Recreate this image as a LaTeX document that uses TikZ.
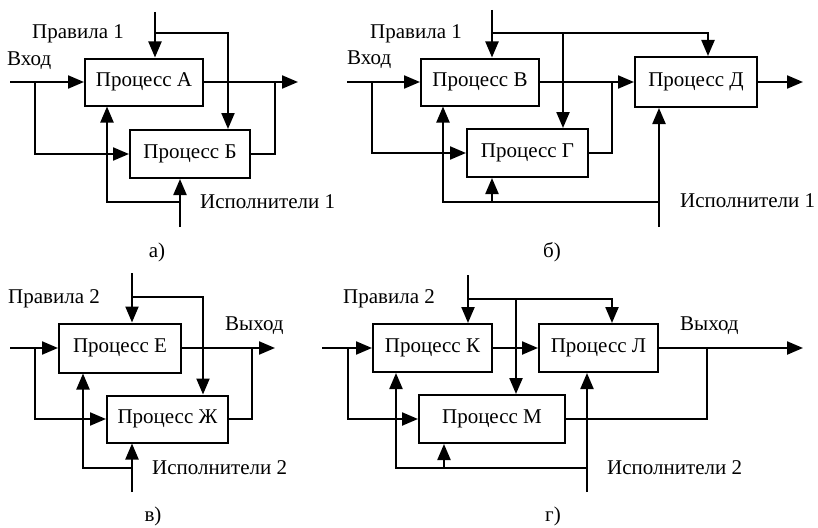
\documentclass[tikz,border=0pt]{standalone}
\usepackage{fontspec}
\setmainfont{Liberation Serif}
\usetikzlibrary{arrows.meta}
\begin{document}
\begin{tikzpicture}[x=1pt,y=-1pt,
  box/.style={draw,line width=2pt,inner sep=0pt,minimum height=47pt,font=\fontsize{21}{24}\selectfont},
  wire/.style={line width=2.2pt},
  arr/.style={wire,-{Triangle[length=16pt,width=13pt]}},
  lbl/.style={inner sep=0pt,anchor=base west,font=\fontsize{21}{24}\selectfont},
  capt/.style={inner sep=0pt,anchor=base,font=\fontsize{21}{24}\selectfont}]
\useasboundingbox (0,0) rectangle (818,527);
% ---------- panel a
\node[box,minimum width=118pt] (A) at (144,82) {Процесс А};
\node[box,minimum width=120pt,minimum height=48pt] (B) at (190,154) {Процесс Б};
\coordinate (a-in) at (10,82); \coordinate (a-j1) at (35,82);
\coordinate (a-out) at (298,82); \coordinate (a-j2) at (275,82);
\coordinate (a-rt) at (155,12); \coordinate (a-rj) at (155,33); \coordinate (a-rb) at (228,33);
\coordinate (a-mb) at (180,227); \coordinate (a-mj) at (180,202); \coordinate (a-ml) at (107,202);
\draw[arr] (a-in) -- (A.west);
\draw[arr] (a-j1) |- (B.west);
\draw[arr] (A.east) -- (a-out);
\draw[wire] (B.east) -| (a-j2);
\draw[arr] (a-rt) -- (a-rt |- A.north);
\draw[arr] (a-rj) -- (a-rb) -- (a-rb |- B.north);
\draw[arr] (a-mb) -- (a-mb |- B.south);
\draw[arr] (a-mj) -- (a-ml) -- (a-ml |- A.south);
\node[lbl] (a-l1) at (32,39) {Правила 1};
\node[lbl] (a-l2) at (7,65) {Вход};
\node[lbl] (a-l3) at (200,208) {Исполнители 1};
\node[capt] (a-c) at (157,257) {а)};
% ---------- panel b
\node[box,minimum width=118pt] (V) at (480,82) {Процесс В};
\node[box,minimum width=121pt,minimum height=48pt] (G) at (527.5,153) {Процесс Г};
\node[box,minimum width=122pt,minimum height=50pt] (D) at (696,82) {Процесс Д};
\coordinate (b-in) at (347,82); \coordinate (b-j1) at (372,82);
\coordinate (b-j2) at (612,82); \coordinate (b-out) at (803,82);
\coordinate (b-rt) at (492,10); \coordinate (b-rj) at (492,33); \coordinate (b-rb) at (708,33); \coordinate (b-rm) at (563,33);
\coordinate (b-mb) at (659,227); \coordinate (b-mj) at (659,202); \coordinate (b-ml) at (443,202); \coordinate (b-mm) at (492,202);
\draw[arr] (b-in) -- (V.west);
\draw[arr] (b-j1) |- (G.west);
\draw[arr] (V.east) -- (D.west);
\draw[wire] (G.east) -| (b-j2);
\draw[arr] (D.east) -- (b-out);
\draw[arr] (b-rt) -- (b-rt |- V.north);
\draw[arr] (b-rj) -- (b-rb) -- (b-rb |- D.north);
\draw[arr] (b-rm) -- (b-rm |- G.north);
\draw[arr] (b-mb) -- (b-mb |- D.south);
\draw[arr] (b-mj) -- (b-ml) -- (b-ml |- V.south);
\draw[arr] (b-mm) -- (b-mm |- G.south);
\node[lbl] (b-l1) at (370,38) {Правила 1};
\node[lbl] (b-l2) at (347,64) {Вход};
\node[lbl] (b-l3) at (680,207) {Исполнители 1};
\node[capt] (b-c) at (552,257) {б)};
% ---------- panel c
\node[box,minimum width=122pt,minimum height=49pt] (E) at (120,348) {Процесс Е};
\node[box,minimum width=121pt] (Zh) at (167.5,419) {Процесс Ж};
\coordinate (c-in) at (10,348); \coordinate (c-j1) at (35,348);
\coordinate (c-out) at (275,348); \coordinate (c-j2) at (252,348);
\coordinate (c-rt) at (132,273); \coordinate (c-rj) at (132,297); \coordinate (c-rb) at (203,297);
\coordinate (c-mb) at (132,492); \coordinate (c-mj) at (132,468); \coordinate (c-ml) at (83,468);
\draw[arr] (c-in) -- (E.west);
\draw[arr] (c-j1) |- (Zh.west);
\draw[arr] (E.east) -- (c-out);
\draw[wire] (Zh.east) -| (c-j2);
\draw[arr] (c-rt) -- (c-rt |- E.north);
\draw[arr] (c-rj) -- (c-rb) -- (c-rb |- Zh.north);
\draw[arr] (c-mb) -- (c-mb |- Zh.south);
\draw[arr] (c-mj) -- (c-ml) -- (c-ml |- E.south);
\node[lbl] (c-l1) at (8,303) {Правила 2};
\node[lbl] (c-l2) at (225,330) {Выход};
\node[lbl] (c-l3) at (152,474) {Исполнители 2};
\node[capt] (c-c) at (153,521) {в)};
% ---------- panel d
\node[box,minimum width=119pt,minimum height=48pt] (K) at (432.5,348) {Процесс К};
\node[box,minimum width=119pt,minimum height=48pt] (L) at (598.5,348) {Процесс Л};
\node[box,minimum width=146pt,minimum height=48pt] (M) at (492,419) {Процесс М};
\coordinate (d-in) at (322,348); \coordinate (d-j1) at (348,348);
\coordinate (d-out) at (803,348); \coordinate (d-j2) at (707,348);
\coordinate (d-rt) at (468,275); \coordinate (d-rj) at (468,299); \coordinate (d-rb) at (612,299); \coordinate (d-rm) at (516,299);
\coordinate (d-mb) at (587,492); \coordinate (d-mj) at (587,468); \coordinate (d-ml) at (396,468); \coordinate (d-mm) at (444,468);
\draw[arr] (d-in) -- (K.west);
\draw[arr] (d-j1) |- (M.west);
\draw[arr] (K.east) -- (L.west);
\draw[arr] (L.east) -- (d-out);
\draw[wire] (M.east) -| (d-j2);
\draw[arr] (d-rt) -- (d-rt |- K.north);
\draw[arr] (d-rj) -- (d-rb) -- (d-rb |- L.north);
\draw[arr] (d-rm) -- (d-rm |- M.north);
\draw[arr] (d-mb) -- (d-mb |- L.south);
\draw[arr] (d-mj) -- (d-ml) -- (d-ml |- K.south);
\draw[arr] (d-mm) -- (d-mm |- M.south);
\node[lbl] (d-l1) at (343,303) {Правила 2};
\node[lbl] (d-l2) at (680,330) {Выход};
\node[lbl] (d-l3) at (607,474) {Исполнители 2};
\node[capt] (d-c) at (553,521) {г)};
\end{tikzpicture}
\end{document}
